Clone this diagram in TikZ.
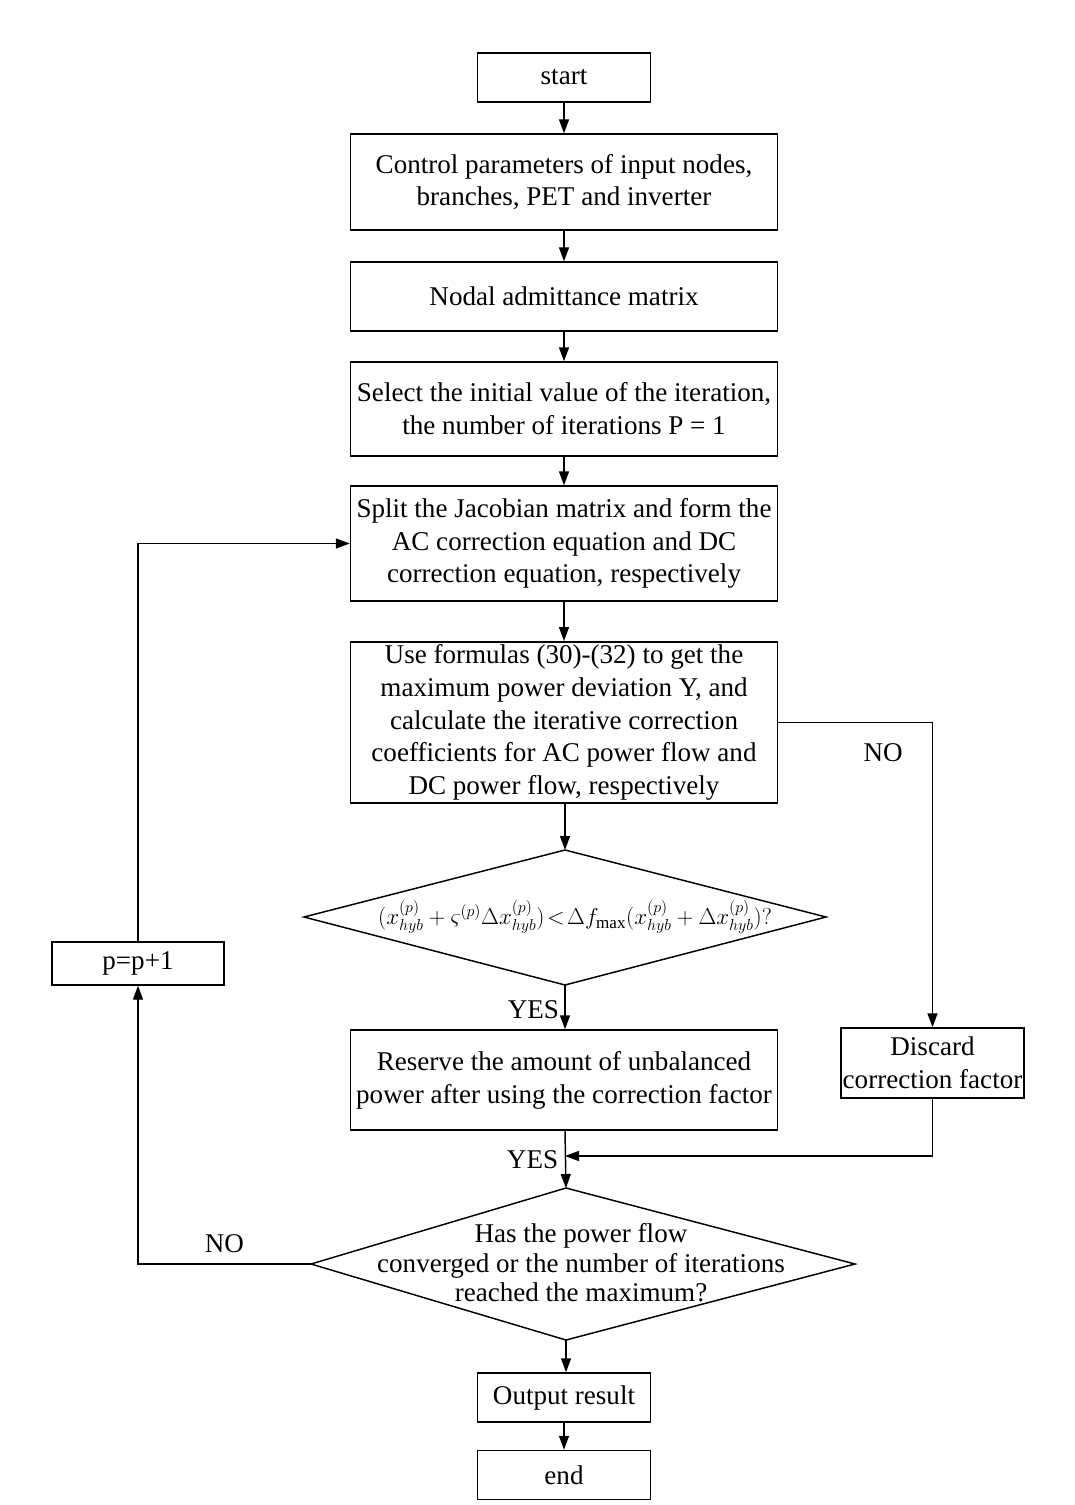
\documentclass[tikz,border=0pt]{standalone}
\usepackage{fontspec}
\setmainfont{Liberation Serif}
\usetikzlibrary{arrows.meta}
\newcommand{\widthmain}{320.25pt}
\newcommand{\widthterm}{129.75pt}
\newcommand{\flowfont}{\fontsize{20.3pt}{24.6pt}\selectfont}
\tikzset{
    common/.style={draw, rectangle, line width=1.1pt, align=center, inner sep=2pt, font=\flowfont},
    stepbox/.style={common, minimum width=\widthmain},
    term/.style={common, minimum width=\widthterm, minimum height=36.75pt},
    smallbox/.style={common, minimum width=129pt, minimum height=32.25pt},
    rhomb/.style={draw, line width=1.1pt, line join=miter},
    flow/.style={line width=1.1pt, -{Triangle[length=10.5pt, width=7.5pt]}},
    tag/.style={font=\flowfont, inner sep=1pt}
}
\begin{document}
\begin{tikzpicture}[x=0.75pt, y=-0.75pt]
    \useasboundingbox (0,0) rectangle (1074,1505);
    % main column
    \node[term] (start) at (564,77.5) {start};
    \node[stepbox, minimum height=72pt] (input) at (564,182) {Control parameters of input nodes,\\ branches, PET and inverter};
    \node[stepbox, minimum height=51.75pt] (admit) at (564,296.5) {Nodal admittance matrix};
    \node[stepbox, minimum height=70.5pt] (init) at (564,409) {Select the initial value of the iteration,\\ the number of iterations P = 1};
    \node[stepbox, minimum height=86.25pt] (split) at (564,543.5) {Split the Jacobian matrix and form the\\ AC correction equation and DC\\ correction equation, respectively};
    \node[stepbox, minimum height=119.25pt] (coef) at (564,722.5) {Use formulas (30)-(32) to get the\\ maximum power deviation Y, and\\ calculate the iterative correction\\ coefficients for AC power flow and\\ DC power flow, respectively};
    % first check
    \node[font=\fontsize{18.3pt}{22pt}\selectfont, inner sep=0pt] (test) at (575,917) {$(x^{(p)}_{hyb}+\varsigma^{(p)}\Delta x^{(p)}_{hyb})\!<\!\Delta f_{\max}(x^{(p)}_{hyb}+\Delta x^{(p)}_{hyb})?$};
    \coordinate (testN) at (565,850);
    \coordinate (testE) at (826,917);
    \coordinate (testS) at (565,985);
    \coordinate (testW) at (304,917);
    \draw[rhomb] (testW) -- (testN) -- (testE) -- (testS) -- cycle;
    \node[stepbox, minimum height=75pt] (keep) at (564,1080) {Reserve the amount of unbalanced\\ power after using the correction factor};
    \node[common, minimum width=137.25pt, minimum height=52.5pt, inner sep=1pt] (drop) at (932.5,1063) {Discard\\ correction factor};
    \coordinate (merge) at (565,1156);
    % second check
    \node[font=\fontsize{20.3pt}{22.2pt}\selectfont, inner sep=0pt, align=center] (conv) at (581,1263) {Has the power flow\\ converged or the number of iterations\\ reached the maximum?};
    \coordinate (convN) at (566,1188);
    \coordinate (convE) at (855,1264);
    \coordinate (convS) at (566,1340);
    \coordinate (convW) at (311,1264);
    \draw[rhomb] (convW) -- (convN) -- (convE) -- (convS) -- cycle;
    \node[term] (result) at (564,1397.5) {Output result};
    \node[term] (finish) at (564,1475) {end};
    \node[smallbox] (incr) at (138,963.5) {p=p+1};
    % connectors
    \draw[flow] (start) -- (input);
    \draw[flow] (input) -- (admit);
    \draw[flow] (admit) -- (init);
    \draw[flow] (init) -- (split);
    \draw[flow] (split) -- (coef);
    \draw[flow] (coef.south -| testN) -- (testN);
    \draw[flow] (testS) -- (keep.north -| testS) node[tag, pos=0.55, left=3pt] {YES};
    \draw[flow] (keep.south -| merge) -- (convN) node[tag, pos=0.5, left=4pt] {YES};
    \draw[flow] (coef.east) -| (drop.north) node[tag, pos=0.34, below=14pt] {NO};
    \draw[flow] (drop.south) |- (merge);
    \draw[flow] (convW) -| (incr.south) node[tag, pos=0.25, above=7pt] {NO};
    \draw[flow] (incr.north) |- (split.west);
    \draw[flow] (convS) -- (result.north -| convS);
    \draw[flow] (result) -- (finish);
\end{tikzpicture}
\end{document}
